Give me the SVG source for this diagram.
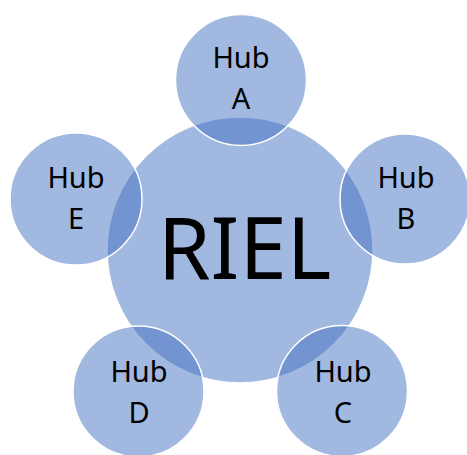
<svg xmlns="http://www.w3.org/2000/svg" width="467" height="455" viewBox="0 0 467 455">
<style>
.c{fill:#4472C4;fill-opacity:0.5;stroke:#FFFFFF;stroke-width:1.5}
.t{font-family:"Noto Sans","Liberation Sans",sans-serif;font-size:29px;fill:#000;text-anchor:middle}
.big{font-family:"Noto Sans","Liberation Sans",sans-serif;font-size:85px;fill:#000;text-anchor:middle}
</style>
<rect width="467" height="455" fill="#FFFFFF"/>
<g id="riel">
<circle class="c" cx="240" cy="250" r="133"/>
<text class="big" x="244.5" y="279">RIEL</text>
</g>
<g id="hubA">
<circle class="c" cx="241" cy="80" r="65.5"/>
<text class="t" x="241" y="68">Hub</text>
<text class="t" x="241" y="109">A</text>
</g>
<g id="hubB">
<circle class="c" cx="405" cy="199" r="65"/>
<text class="t" x="406" y="188">Hub</text>
<text class="t" x="406" y="229">B</text>
</g>
<g id="hubC">
<circle class="c" cx="342" cy="391" r="65.5"/>
<text class="t" x="343" y="382">Hub</text>
<text class="t" x="343" y="423">C</text>
</g>
<g id="hubD">
<circle class="c" cx="138.5" cy="391.5" r="65.5"/>
<text class="t" x="139" y="382">Hub</text>
<text class="t" x="139" y="423">D</text>
</g>
<g id="hubE">
<circle class="c" cx="76" cy="199" r="66"/>
<text class="t" x="76" y="188">Hub</text>
<text class="t" x="76" y="229">E</text>
</g>
<g id="connectors"></g>
</svg>
